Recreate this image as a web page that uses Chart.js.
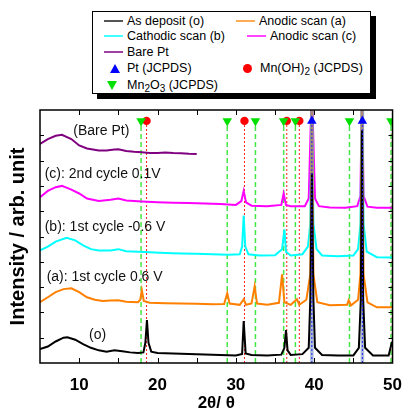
<!DOCTYPE html>
<html>
<head>
<meta charset="utf-8">
<script src="https://cdn.jsdelivr.net/npm/chart.js@4.4.0/dist/chart.umd.min.js"></script>
<style>
  body { margin: 0; background: #fff; font-family: "Liberation Sans", Arial, sans-serif; }
  #wrap { position: relative; width: 406px; height: 412px; }
  #shadow { position: absolute; left: 97px; top: 16px; width: 279px; height: 83px; background: #000; }
  #legend { position: absolute; left: 92px; top: 11px; width: 277px; height: 81px;
            border: 1px solid #000; background: #fff; }
  .txt { position: absolute; font-size: 12.5px; line-height: 14px; white-space: nowrap; color: #000; }
  .txt sub { font-size: 10px; line-height: 0; vertical-align: -3px; }
  .ln { position: absolute; height: 2px; width: 19px; }
  .up { position: absolute; width: 0; height: 0; border-left: 5.5px solid transparent;
        border-right: 5.5px solid transparent; border-bottom: 9px solid #0000ff; }
  .down { position: absolute; width: 0; height: 0; border-left: 5.5px solid transparent;
          border-right: 5.5px solid transparent; border-top: 9px solid #00e000; }
  .dot { position: absolute; width: 9px; height: 9px; border-radius: 50%; background: #ff0000; }
</style>
</head>
<body>
<div id="wrap">
  <canvas id="xrd" width="406" height="412"></canvas>
  <div id="shadow"></div>
  <div id="legend">
    <div class="ln" style="left:11px;top:8px;background:#555"></div>
    <div class="txt" style="left:34px;top:2px">As deposit (o)</div>
    <div class="ln" style="left:143px;top:8px;background:#ffaa55"></div>
    <div class="txt" style="left:166px;top:2px">Anodic scan (a)</div>

    <div class="ln" style="left:11px;top:23px;background:#44ffff"></div>
    <div class="txt" style="left:34px;top:17px">Cathodic scan (b)</div>
    <div class="ln" style="left:154px;top:23px;background:#ff44ff"></div>
    <div class="txt" style="left:177px;top:17px">Anodic scan (c)</div>

    <div class="ln" style="left:11px;top:39px;background:#a040a0"></div>
    <div class="txt" style="left:34px;top:33px">Bare Pt</div>

    <div class="up" style="left:17px;top:52px"></div>
    <div class="txt" style="left:34px;top:49px">Pt (JCPDS)</div>
    <div class="dot" style="left:150px;top:52px"></div>
    <div class="txt" style="left:167px;top:49px">Mn(OH)<sub>2</sub> (JCPDS)</div>

    <div class="down" style="left:14px;top:69px"></div>
    <div class="txt" style="left:34px;top:66px">Mn<sub>2</sub>O<sub>3</sub> (JCPDS)</div>
  </div>
</div>
<script>
// curves: [2theta, intensity (arb.)]
const asDeposit = [[5,0.55],[6,0.65],[7,0.85],[8,1.0],[8.5,1.02],[9.5,0.92],[10.5,0.75],[11.5,0.6],[12.5,0.5],
  [13.5,0.45],[14.5,0.5],[15.5,0.46],[16.5,0.42],[17.5,0.4],[18.2,0.42],[18.45,0.8],[18.65,1.7],[18.85,0.8],
  [19.2,0.45],[20,0.4],[22,0.38],[24,0.36],[26,0.34],[28,0.32],[30,0.3],[30.8,0.36],[31.0,1.66],[31.25,0.38],
  [32,0.32],[34,0.3],[35.8,0.33],[36.2,0.6],[36.4,1.3],[36.6,0.5],[37,0.32],[38.5,0.35],[39.3,0.6],[39.5,2.5],
  [39.7,7.5],[39.9,2.5],[40.1,0.6],[41,0.32],[43,0.3],[45,0.3],[45.7,0.6],[45.95,2.5],[46.1,9.2],[46.25,2.5],
  [46.5,0.6],[47.5,0.3],[49.5,0.3],[49.9,0.8],[50,0.8]];
const anodicA = [[5,2.4],[6,2.6],[7,2.8],[8,2.92],[9,2.95],[10,2.8],[11,2.6],[12,2.5],[13,2.45],[14,2.47],
  [15,2.48],[16,2.42],[17.5,2.4],[17.8,2.5],[18,2.87],[18.25,2.45],[19,2.38],[21,2.36],[23,2.35],[25,2.34],
  [27,2.32],[28.5,2.33],[28.9,2.76],[29.2,2.35],[30.5,2.3],[31.0,2.52],[31.3,2.3],[32.0,2.35],[32.4,3.03],
  [32.7,2.35],[34,2.3],[35.5,2.38],[35.9,3.5],[36.2,2.4],[37,2.3],[37.8,2.52],[38.1,2.3],[39,2.5],[39.5,3.5],
  [39.7,11],[39.9,3.5],[40.4,2.4],[42,2.28],[44.2,2.3],[44.4,2.48],[44.7,2.28],[45.6,2.5],[45.9,3.5],[46.1,11],
  [46.3,3.5],[46.8,2.4],[48,2.2],[50,2.2]];
const cathodicB = [[5,4.45],[6,4.6],[7,4.8],[8.4,4.95],[9.5,4.85],[10.5,4.65],[11.5,4.5],[12.5,4.45],[14,4.45],
  [15,4.5],[16,4.42],[17.5,4.4],[19,4.38],[21,4.35],[23,4.33],[25,4.32],[27,4.3],[29,4.28],[30.5,4.3],[30.8,4.6],
  [31.0,5.83],[31.2,4.6],[31.6,4.3],[33,4.25],[35,4.26],[35.9,4.5],[36.2,5.28],[36.4,4.4],[37,4.25],[38.5,4.3],
  [39.2,4.6],[39.5,5.5],[39.7,11],[39.9,5.5],[40.3,4.5],[41,4.25],[43,4.22],[45,4.25],[45.6,4.5],[45.9,5.5],
  [46.1,11],[46.3,5.5],[46.7,4.4],[48,4.18],[50,4.17]];
const anodicC = [[5,6.55],[6,6.8],[7,6.95],[7.8,7.0],[9,6.85],[10,6.7],[11,6.5],[12.5,6.4],[14,6.45],[15,6.5],
  [16,6.42],[18,6.38],[20,6.35],[22,6.33],[24,6.32],[26,6.3],[28,6.28],[30,6.25],[30.7,6.4],[31.0,6.8],
  [31.3,6.35],[32,6.22],[34,6.2],[35.8,6.25],[36.1,6.7],[36.4,6.25],[37,6.2],[38.8,6.2],[39.3,6.5],[39.7,11],
  [40.1,6.5],[40.6,6.2],[42,6.15],[44,6.14],[45.5,6.2],[45.9,6.6],[46.1,11],[46.3,6.6],[46.8,6.18],[48,6.14],
  [50,6.14]];
const barePt = [[5,8.66],[6,8.85],[7,8.98],[7.8,9.02],[9,8.85],[10,8.6],[11,8.48],[12.5,8.4],[13.5,8.4],
  [14.5,8.44],[15,8.45],[16,8.38],[17,8.35],[18,8.33],[19,8.3],[20,8.3],[21,8.32],[22,8.3],[23,8.29],[24,8.27],
  [25,8.26]];

// JCPDS reference positions
const ptRefs = [39.7, 46.15];
const mnohRefs = [18.6, 31.1, 36.5, 38.1];
const mnohEdge = [49.95];
const mn2o3Refs = [17.9, 28.9, 32.5, 36.1, 37.6, 44.5, 49.8];
const markerLevel = 9.57;

const xTicks = [10, 20, 30, 40, 50];

const curveLabels = [
  { text: '(Bare Pt)', x: 9.25, y: 9.17 },
  { text: '(c): 2nd cycle 0.1V', x: 5.6, y: 7.47 },
  { text: '(b): 1st cycle -0.6 V', x: 5.6, y: 5.38 },
  { text: '(a): 1st cycle 0.6 V', x: 5.85, y: 3.4 },
  { text: '(o)', x: 11.25, y: 1.1 }
];

function toXY(pts) {
  return pts.map(p => ({ x: p[0], y: p[1] }));
}

function curve(label, pts, color, order) {
  return { label, data: toXY(pts), borderColor: color, borderWidth: 2,
           pointRadius: 0, tension: 0, fill: false, order: order || 1 };
}

function refLine(x, color, dash, width, order, top) {
  return { data: [{ x, y: 0 }, { x, y: top || markerLevel }], borderColor: color, borderWidth: width,
           borderDash: dash, pointRadius: 0, fill: false, order: order || 2 };
}

function markers(xs, style, rotation, color, radius) {
  return { type: 'scatter', data: xs.map(x => ({ x, y: markerLevel })), pointStyle: style,
           rotation, pointRadius: radius, backgroundColor: color, borderColor: color,
           borderWidth: 0, showLine: false, order: 0 };
}

// lower order is drawn on top
const datasets = [
  ...mn2o3Refs.map(x => refLine(x, '#44e844', [5, 3], 1.5)),
  ...mnohRefs.concat(mnohEdge).map(x => refLine(x, '#ff2020', [2, 2], 1)),
  ...ptRefs.map(x => refLine(x, 'rgba(120,145,185,0.6)', [], 3.5, 0.6, 10)),
  ...ptRefs.map(x => refLine(x, '#2020ff', [2, 2], 1, 0.4)),
  curve('As deposit (o)', asDeposit, '#000000', 0.5),
  curve('Anodic scan (a)', anodicA, '#ff8000'),
  curve('Cathodic scan (b)', cathodicB, '#00ffff'),
  curve('Anodic scan (c)', anodicC, '#ff00ff'),
  curve('Bare Pt', barePt, '#800080'),
  markers(mn2o3Refs, 'triangle', 180, '#00e000', 5.5),
  markers(mnohRefs, 'circle', 0, '#ff0000', 4.2),
  markers(ptRefs, 'triangle', 0, '#0000ff', 5.5)
];

// frame, inward ticks and curve labels
const frameAndText = {
  id: 'frameAndText',
  afterDatasetsDraw(chart) {
    const { ctx, chartArea: a, scales: { x, y } } = chart;
    ctx.save();
    ctx.strokeStyle = '#000';
    ctx.lineWidth = 1;
    for (let v = 1; v < 10; v++) {
      const py = Math.round(y.getPixelForValue(v)) + 0.5;
      ctx.beginPath();
      ctx.moveTo(a.left, py); ctx.lineTo(a.left + 4, py);
      ctx.moveTo(a.right, py); ctx.lineTo(a.right - 4, py);
      ctx.stroke();
    }
    for (let v = 10; v < 50; v += 5) {
      const px = Math.round(x.getPixelForValue(v)) + 0.5;
      ctx.beginPath();
      ctx.moveTo(px, a.top); ctx.lineTo(px, a.top + 5);
      ctx.moveTo(px, a.bottom); ctx.lineTo(px, a.bottom - 5);
      ctx.stroke();
    }
    ctx.lineWidth = 1.5;
    ctx.strokeRect(a.left, a.top, a.right - a.left, a.bottom - a.top);

    ctx.fillStyle = '#111';
    ctx.font = '14px "Liberation Sans", Arial, sans-serif';
    ctx.textAlign = 'left';
    ctx.textBaseline = 'middle';
    curveLabels.forEach(l => {
      ctx.fillText(l.text, x.getPixelForValue(l.x), y.getPixelForValue(l.y));
    });
    ctx.restore();
  }
};

new Chart(document.getElementById('xrd'), {
  type: 'line',
  data: { datasets },
  plugins: [frameAndText],
  options: {
    responsive: false,
    animation: false,
    devicePixelRatio: 1,
    layout: { padding: { top: 110, right: 6, left: 0, bottom: 0 } },
    plugins: { legend: { display: false }, tooltip: { enabled: false } },
    scales: {
      x: {
        type: 'linear', min: 5, max: 50,
        grid: { display: false }, border: { display: false },
        afterBuildTicks: s => { s.ticks = xTicks.map(v => ({ value: v })); },
        afterFit: s => { s.height = 49; },
        ticks: { color: '#000', padding: 4, maxRotation: 0, autoSkip: false,
                 font: { family: '"Liberation Sans", Arial, sans-serif', size: 17, weight: 'bold' } },
        title: { display: true, text: '2θ/ θ', color: '#000', padding: { top: 0, bottom: 0 },
                 font: { family: '"Liberation Sans", Arial, sans-serif', size: 17, weight: 'bold', lineHeight: 1 } }
      },
      y: {
        type: 'linear', min: 0, max: 10,
        grid: { display: false }, border: { display: false },
        ticks: { display: false },
        afterFit: s => { s.width = 40; },
        title: { display: true, text: 'Intensity / arb. unit', color: '#000', padding: { top: 8, bottom: 0 },
                 font: { family: '"Liberation Sans", Arial, sans-serif', size: 20, weight: 'bold', lineHeight: 1 } }
      }
    }
  }
});
</script>
</body>
</html>
